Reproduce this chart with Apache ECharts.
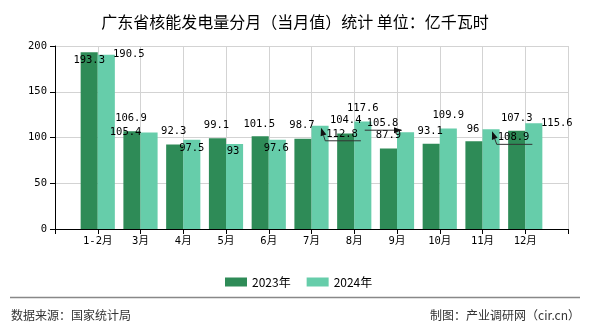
<!DOCTYPE html>
<html>
<head>
<meta charset="utf-8">
<script src="https://cdn.jsdelivr.net/npm/echarts@6/dist/echarts.min.js"></script>
<style>
html,body{margin:0;padding:0;background:#fff;}
#chart{width:590px;height:330px;}
</style>
</head>
<body>
<div id="chart"></div>
<script>
// ---- data ----
const categories = ['1-2月','3月','4月','5月','6月','7月','8月','9月','10月','11月','12月'];
const values2023 = [193.3, 106.9, 92.3, 99.1, 101.5, 98.7, 104.4, 87.9, 93.1, 96, 107.3];
const values2024 = [190.5, 105.4, 97.5, 93, 97.6, 112.8, 117.6, 105.8, 109.9, 108.9, 115.6];
const yTicks = [0, 50, 100, 150, 200];
const seriesNames = ['2023年', '2024年'];
// label placement (relative to the bar top), styling only
const labelOffset2023 = [[0,14],[-1,-7],[-1,-7],[-1,-7],[-1,-6],[-1,-7],[0,-7],[0,-7],[-1,-7],[-1,-6],[0,-7]];
const labelOffset2024 = [[22.5,5.5],[-23.5,6],[0,14.5],[-1.5,13],[-1,14.5],[22,14],[0,-7],[-23,-3],[0,-7],[22.5,14],[23,6]];
const leaderIdx2024 = [5, 7, 9];

const monoFont = "'DejaVu Sans Mono', 'Noto Sans CJK SC'";
const labelSize = 10.5;
const cv = document.createElement('canvas').getContext('2d');
cv.font = labelSize + 'px ' + monoFont;
function textW(t){ return cv.measureText(String(t)).width; }

const paddedCats = [''].concat(categories, ['']);
function buildBars(vals, offs){
  return ['-'].concat(vals.map((v,i)=>({value:v, label:{offset:offs[i]}})), ['-']);
}
const labelBase = {
  show: true, position: 'top', distance: 0,
  color: '#000', fontSize: labelSize, lineHeight: 12, fontFamily: monoFont
};

const chart = echarts.init(document.getElementById('chart'), null, {renderer:'canvas'});
chart.setOption({
  animation: false,
  backgroundColor: '#fff',
  title: {
    text: '广东省核能发电量分月（当月值）统计 单位：亿千瓦时',
    left: 'center', top: 8,
    textStyle: {fontSize: 16, fontWeight: 'normal', color: '#000', fontFamily: 'Noto Sans CJK SC', lineHeight: 18}
  },
  legend: {
    data: seriesNames,
    left: 220, top: 271,
    icon: 'rect', itemWidth: 22, itemHeight: 9, itemGap: 16,
    textStyle: {fontSize: 12, color: '#000', fontFamily: 'Noto Sans CJK SC'}
  },
  grid: {left: 55, right: 22, top: 46, bottom: 101, containLabel: false},
  xAxis: {
    type: 'category', data: paddedCats, boundaryGap: false,
    axisLine: {lineStyle: {color: '#000', width: 1}},
    axisTick: {show: true, interval: 0, length: 5, lineStyle: {color: '#000'}},
    axisLabel: {interval: 0, margin: 7, color: '#000', fontSize: labelSize, fontFamily: monoFont},
    splitLine: {show: true, interval: 0, lineStyle: {color: '#d3d3d3', width: 1}}
  },
  yAxis: {
    type: 'value', min: yTicks[0], max: yTicks[yTicks.length-1], interval: yTicks[1]-yTicks[0],
    axisLine: {show: true, lineStyle: {color: '#000', width: 1}},
    axisTick: {show: true, length: 5, lineStyle: {color: '#000'}},
    axisLabel: {margin: 8, color: '#000', fontSize: labelSize, fontFamily: monoFont},
    splitLine: {show: true, lineStyle: {color: '#d3d3d3', width: 1}}
  },
  series: [
    {
      name: seriesNames[0], type: 'bar', barWidth: '40%', barGap: '0%',
      itemStyle: {color: '#2e8b57'},
      label: labelBase,
      data: buildBars(values2023, labelOffset2023)
    },
    {
      name: seriesNames[1], type: 'bar', barWidth: '40%', barGap: '0%',
      itemStyle: {color: '#66cdaa'},
      label: labelBase,
      data: buildBars(values2024, labelOffset2024)
    },
    {
      type: 'custom', silent: true, z: 10,
      data: leaderIdx2024.map(i => [i + 1, values2024[i]]),
      encode: {x: 0, y: 1},
      renderItem: function(params, api){
        const k = api.value(0), v = api.value(1);
        const i = k - 1;
        const p = api.coord([k, v]);
        const half = api.size([1, 0])[0] * 0.2;
        const cx = p[0] + half, top = p[1];
        const off = labelOffset2024[i];
        const lx = cx + off[0], ly = top - 6 + off[1];
        const w = textW(values2024[i]);
        const left = lx - w/2, right = lx + w/2;
        const uy = ly + 7;
        let tip, elbow, end;
        if (off[0] > 0) {
          tip = [cx + 1, top + 2]; elbow = [left - 1, uy]; end = [right + 3, uy];
        } else {
          tip = [cx - half + 5, top - 2]; elbow = [right + 3, uy]; end = [left - 2, uy];
        }
        let ref = elbow;
        if (Math.hypot(tip[0]-elbow[0], tip[1]-elbow[1]) < 4) ref = end;
        const dx = tip[0]-ref[0], dy = tip[1]-ref[1];
        const L = Math.hypot(dx, dy) || 1;
        const ux = dx/L, uyv = dy/L;
        const aL = 8, aW = 3;
        const b = [tip[0]-ux*aL, tip[1]-uyv*aL];
        const arrow = [tip, [b[0]-uyv*aW, b[1]+ux*aW], [b[0]+uyv*aW, b[1]-ux*aW]];
        return {
          type: 'group',
          children: [
            {type: 'polyline', shape: {points: [b, elbow, end]}, style: {stroke: '#333', lineWidth: 1, fill: null}},
            {type: 'polygon', shape: {points: arrow}, style: {fill: '#111'}}
          ]
        };
      }
    }
  ],
  graphic: [
    {type: 'line', shape: {x1: 10, y1: 297.5, x2: 580, y2: 297.5}, style: {stroke: '#888', lineWidth: 1.5}},
    {type: 'text', left: 11, top: 309, style: {text: '数据来源：国家统计局', fontSize: 12, fill: '#333', fontFamily: 'Noto Sans CJK SC'}},
    {type: 'text', right: 10, top: 309, style: {text: '制图：产业调研网（cir.cn）', fontSize: 12, fill: '#333', fontFamily: 'Noto Sans CJK SC'}}
  ]
});
</script>
</body>
</html>
